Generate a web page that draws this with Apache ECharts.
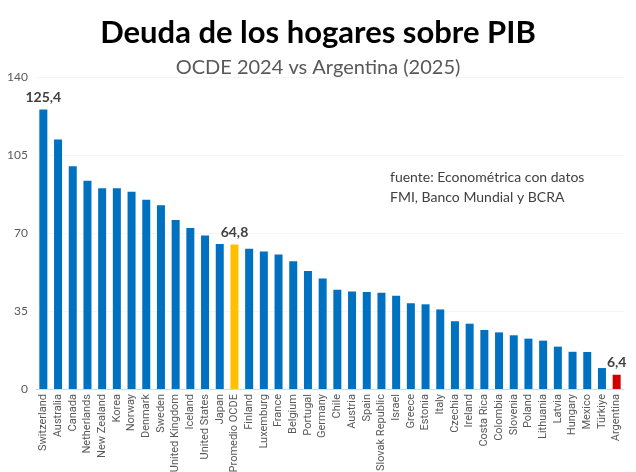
<!DOCTYPE html>
<html>
<head>
    <meta charset="utf-8">
    <script src="https://cdn.jsdelivr.net/npm/echarts@6/dist/echarts.min.js"></script>
</head>
<body style="margin:0;background:#fff">
<div id="main" style="width: 636px;height:472px"></div>

<script type="text/javascript">
    // datos: deuda de los hogares (% del PIB)
    var paises = ['Switzerland','Australia','Canada','Netherlands','New Zealand','Korea','Norway','Denmark',
        'Sweden','United Kingdom','Iceland','United States','Japan','Promedio OCDE','Finland','Luxemburg',
        'France','Belgium','Portugal','Germany','Chile','Austria','Spain','Slovak Republic','Israel',
        'Greece','Estonia','Italy','Czechia','Ireland','Costa Rica','Colombia','Slovenia','Poland',
        'Lithuania','Latvia','Hungary','Mexico','Türkiye','Argentina'];
    var deuda = [125.4,112.0,100.0,93.4,90.1,90.1,88.5,84.9,
        82.5,75.8,72.2,68.9,65.1,64.8,62.9,61.7,
        60.4,57.3,53.0,49.6,44.5,43.8,43.5,43.2,41.8,
        38.5,38.0,35.7,30.4,29.3,26.5,25.4,24.1,22.6,
        21.7,19.0,16.7,16.6,9.4,6.4];
    var ticksY = [0, 35, 70, 105, 140];
    // barras con etiqueta
    var conEtiqueta = ['Switzerland','Promedio OCDE','Argentina'];

    var chartDom = document.getElementById('main');
    var myChart = echarts.init(chartDom);
    var option;

    var FUENTE = 'Lato, "Noto Sans", sans-serif';

    var serieDatos = deuda.map(function (v, i) {
        var nombre = paises[i];
        var color = '#0070C0';
        if (nombre === 'Promedio OCDE') color = '#FFC000';
        if (nombre === 'Argentina') color = '#D00000';
        return {
            value: v,
            itemStyle: { color: color },
            label: { show: conEtiqueta.indexOf(nombre) >= 0 }
        };
    });

    option = {
        backgroundColor: '#fff',
        title: [
            {
                text: 'Deuda de los hogares sobre PIB',
                left: 'center',
                top: 12,
                textStyle: { fontFamily: FUENTE, fontSize: 31, fontWeight: 'bold', color: '#000' }
            },
            {
                text: 'OCDE 2024 vs Argentina (2025)',
                left: 'center',
                top: 53,
                textStyle: { fontFamily: FUENTE, fontSize: 20, fontWeight: 'normal', color: '#595959' }
            }
        ],
        graphic: [
            {
                type: 'text',
                left: 390,
                top: 167,
                style: {
                    text: 'fuente: Econométrica con datos\nFMI, Banco Mundial y BCRA',
                    fontFamily: FUENTE,
                    fontSize: 14,
                    lineHeight: 20,
                    fill: '#404040'
                }
            }
        ],
        // v6: sin ajuste automático por las etiquetas
        grid: { left: 36, right: 12, top: 77, bottom: 83, outerBoundsMode: 'none' },
        xAxis: {
            type: 'category',
            data: paises,
            axisTick: { show: false },
            axisLine: { lineStyle: { color: '#d9d9d9' } },
            axisLabel: {
                interval: 0,
                rotate: 90,
                fontFamily: 'Roboto, sans-serif',
                fontSize: 11,
                color: '#595959',
                margin: 5
            }
        },
        yAxis: {
            type: 'value',
            min: ticksY[0],
            max: ticksY[ticksY.length - 1],
            interval: 35,
            axisLine: { show: false },
            axisTick: { show: false },
            splitLine: { lineStyle: { color: '#f5f5f5' } },
            axisLabel: { fontFamily: FUENTE, fontSize: 12, color: '#595959', margin: 8 }
        },
        series: [
            {
                type: 'bar',
                barWidth: 8,
                data: serieDatos,
                label: {
                    position: 'top',
                    distance: 5,
                    fontFamily: FUENTE,
                    fontSize: 14,
                    fontWeight: 'bold',
                    color: '#404040',
                    formatter: function (p) { return p.value.toFixed(1).replace('.', ','); }
                }
            }
        ]
    };

    option && myChart.setOption(option);
</script>
</body>
</html>
